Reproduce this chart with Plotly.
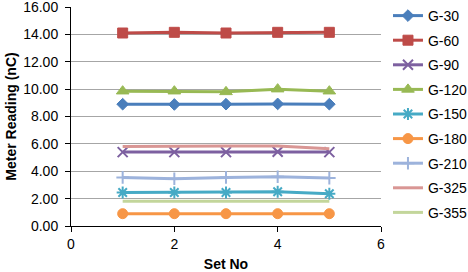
import plotly.graph_objects as go

set_no = [1, 2, 3, 4, 5]
names = ["G-30", "G-60", "G-90", "G-120", "G-150", "G-180", "G-210", "G-325", "G-355"]
g30 = [8.90, 8.88, 8.90, 8.92, 8.90]
g60 = [14.10, 14.15, 14.10, 14.15, 14.15]
g90 = [5.40, 5.40, 5.40, 5.42, 5.40]
g120 = [9.85, 9.85, 9.80, 10.00, 9.85]
g150 = [2.45, 2.45, 2.45, 2.50, 2.35]
g180 = [0.90, 0.90, 0.90, 0.90, 0.90]
g210 = [3.55, 3.45, 3.55, 3.60, 3.50]
g325 = [5.80, 5.85, 5.85, 5.85, 5.65]
g355 = [1.80, 1.80, 1.80, 1.80, 1.80]
series = [g30, g60, g90, g120, g150, g180, g210, g325, g355]
y_ticks = [0, 2, 4, 6, 8, 10, 12, 14, 16]
y_labels = ["0.00", "2.00", "4.00", "6.00", "8.00", "10.00", "12.00", "14.00", "16.00"]

colors = ["#4A7EBB", "#BE4B48", "#7D60A0", "#98B954", "#46AAC5", "#F79646", "#9DB3DC", "#D99694", "#C3D69B"]
symbols = ["diamond", "square", "x-thin-open", "triangle-up", "asterisk-open", "circle", "cross-thin-open", None, None]
sizes = [9, 10, 10, 11, 10, 10, 9, 0, 0]

fig = go.Figure()
for i, (n, ys) in enumerate(zip(names, series)):
    c = colors[i]
    if symbols[i] is None:
        mode = "lines"
        marker = None
    else:
        mode = "lines+markers"
        marker = dict(symbol=symbols[i], size=sizes[i], color=c,
                      line=dict(color=c, width=2 if "open" in symbols[i] else 1))
    fig.add_trace(go.Scatter(
        x=set_no, y=ys, name=n, mode=mode, legendgroup=n,
        line=dict(color=c, width=3),
        marker=marker,
    ))

fig.update_layout(
    width=468, height=272,
    margin=dict(l=71, r=87, t=7, b=46, autoexpand=False),
    paper_bgcolor="white", plot_bgcolor="white",
    font=dict(family="Liberation Sans, Arial, sans-serif", size=14, color="black"),
    showlegend=True,
    legend=dict(xref="container", yref="container",
                x=0.829, xanchor="left", y=1.0, yanchor="top",
                font=dict(size=14), tracegroupgap=3.4, maxheight=272,
                bgcolor="rgba(0,0,0,0)", itemwidth=30),
    xaxis=dict(range=[0, 6], tickvals=[0, 2, 4, 6], showgrid=False,
               showline=True, linecolor="black", linewidth=1,
               ticks="outside", ticklen=5, tickcolor="black",
               zeroline=False, ticklabeloverflow="allow",
               title=dict(text="<b>Set No</b>", font=dict(size=14), standoff=13)),
    yaxis=dict(range=[0, 16], tickvals=y_ticks, ticktext=y_labels,
               showgrid=True, gridcolor="#a6a6a6", gridwidth=1,
               showline=True, linecolor="black", linewidth=1,
               ticks="outside", ticklen=5, tickcolor="black",
               ticklabelstandoff=4, zeroline=False, ticklabeloverflow="allow",
               title=dict(text="<b>Meter Reading (nC)</b>", font=dict(size=14), standoff=3)),
)

fig.write_html("out.html", config={"displayModeBar": False},
               post_script="document.body.style.margin='0';")
